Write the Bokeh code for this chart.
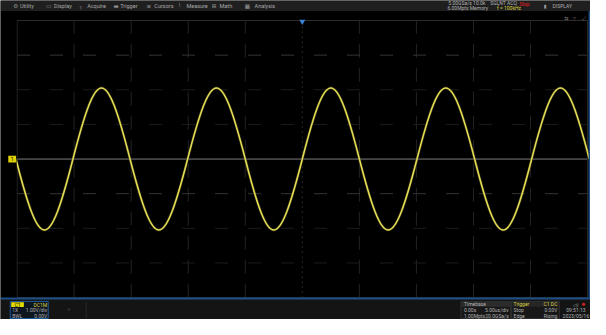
from bokeh.plotting import figure
from bokeh.models import Range1d, Label
from bokeh.embed import file_html
from bokeh.resources import INLINE

# ---------------- data ----------------
# zero crossings of the trace (microseconds, 5 us/div) and the peak of each half cycle (V, 1 V/div)
crossing_us = [-25.1, -20.1, -15.1, -10.05, -5.0, 0.0, 5.0, 10.05, 15.1, 20.1, 25.15]
half_peak_v = [-2.05, 2.05, -2.05, 2.05, -2.05, 2.05, -2.05, 2.05, -2.05, 2.05]
time_grid_us = [-25, -20, -15, -10, -5, 0, 5, 10, 15, 20, 25]
volt_grid = [-4, -3, -2, -1, 0, 1, 2, 3, 4]
menu_items = ["Utility", "Display", "Acquire", "Trigger", "Cursors", "Measure", "Math", "Analysis"]
menu_icons = ["\u2699", "\u25ad", "\u2510", "\u25ac", "\u2261", "\u2514", "\u229e", "\u25a6"]

W, H = 590, 319
p = figure(width=W, height=H, x_range=Range1d(0, 606), y_range=Range1d(335, 0),
           output_backend="svg", toolbar_location=None, min_border=0,
           x_axis_type=None, y_axis_type=None,
           background_fill_color="black", border_fill_color="black",
           outline_line_color=None)
p.grid.visible = False
# screen grid: left edge 17px=-25us, right 603px=+25us; top 21px=+4V, bottom 312px=-4V
pxus = (603 - 17) / 50.0
pxv = (312 - 21) / 8.0
p.extra_x_ranges = {"t": Range1d(-25 - 17 / pxus, 25 + (606 - 603) / pxus)}
p.extra_y_ranges = {"v": Range1d(-4 - (335 - 312) / pxv, 4 + 21 / pxv)}

# ---------------- graticule ----------------
for t in time_grid_us:
    if t in (-25, 25):
        continue
    if t == 0:
        p.segment(x0=[t], y0=[-4], x1=[t], y1=[4], x_range_name="t", y_range_name="v",
                  line_color="#4a4a4a", line_width=1, line_dash="1 4")
    else:
        p.segment(x0=[t], y0=[-4], x1=[t], y1=[4], x_range_name="t", y_range_name="v",
                  line_color="#232323", line_width=1, line_dash="14 10")
for v in volt_grid:
    if v in (-4, 4):
        continue
    if v == 0:
        p.segment(x0=[-25], y0=[v], x1=[25], y1=[v], x_range_name="t", y_range_name="v",
                  line_color="#7c7c7c", line_width=1)
    else:
        col = "#353535" if v in (3, -1) else "#1c1c1c"
        p.segment(x0=[-25], y0=[v], x1=[25], y1=[v], x_range_name="t", y_range_name="v",
                  line_color=col, line_width=1, line_dash="13 20")
p.quad(left=[-25], right=[25], bottom=[-4], top=[4], x_range_name="t", y_range_name="v",
       fill_alpha=0, line_color="#2c2c2c", line_width=1)

# ---------------- waveform (one cubic Bezier per half cycle) ----------------
k = 4.0 / 3.0
x0s, x1s, y0s, y1s, cx0s, cx1s, cy0s, cy1s = [], [], [], [], [], [], [], []
for i, pk in enumerate(half_peak_v):
    a, b = crossing_us[i], crossing_us[i + 1]
    h = b - a
    x0s.append(a); x1s.append(b); y0s.append(0.0); y1s.append(0.0)
    cx0s.append(a + h * k / 3.14159); cx1s.append(b - h * k / 3.14159)
    cy0s.append(pk * k); cy1s.append(pk * k)
p.bezier(x0=x0s, y0=y0s, x1=x1s, y1=y1s, cx0=cx0s, cy0=cy0s, cx1=cx1s, cy1=cy1s,
         x_range_name="t", y_range_name="v", line_color="#4a4620", line_width=3, line_alpha=0.5)
p.bezier(x0=x0s, y0=y0s, x1=x1s, y1=y1s, cx0=cx0s, cy0=cy0s, cx1=cx1s, cy1=cy1s,
         x_range_name="t", y_range_name="v", line_color="#e4dc52", line_width=1.6)

# ---------------- chrome ----------------
def box(l, r, t, b, fill, line=None, lw=1):
    p.quad(left=[l], right=[r], top=[t], bottom=[b], fill_color=fill,
           line_color=line if line else None, line_width=lw)

def lab(x, y, s, color="#b8b8b8", size="5px", align="left", font="Roboto"):
    p.add_layout(Label(x=x, y=y, text=s, text_color=color, text_font_size=size,
                       text_align=align, text_baseline="middle", text_font=font))

box(0, 16.5, 11, 312, "black")                   # left margin mask
box(0, 606, 0, 11, "#1f1f1f")                    # top menu bar
box(0, 606, 313, 335, "#141414")                 # bottom info bar
box(0, 606, 312, 314, "#1d4f86")                 # blue separator
box(604, 606, 11, 313, "#1d4f86")                # right blue edge

icon_x = [13, 47, 81, 116, 150, 182, 217, 251]
text_x = [20, 55, 89, 123, 158, 191, 225, 261]
for ix, tx, ic, it in zip(icon_x, text_x, menu_icons, menu_items):
    lab(ix, 5.5, ic, "#9a9a9a", "5.5px", font="DejaVu Sans")
    lab(tx, 5.5, it, "#a8a8a8", "5.5px")

lab(460, 3, "5.00GSa/s  10.0k", "#b0b0b0", "5px")
lab(459, 8, "6.00Mpts  Memory", "#b0b0b0", "5px")
lab(503, 3, "SGLNT ACQ", "#b0b0b0", "5px")
lab(510, 8, "f = 100kHz", "#d8d040", "5px")
lab(533, 3.5, "Stop", "#e02020", "5px")
lab(558, 5.5, "\u25ae", "#9a9a9a", "5px", font="DejaVu Sans")
lab(567, 5.5, "DISPLAY", "#b0b0b0", "5px")
lab(579, 18, "\u21c6", "#888888", "5px", font="DejaVu Sans")
lab(588, 18, "\u2317", "#888888", "5px", font="DejaVu Sans")
lab(597, 18, "\u2922", "#888888", "5px", font="DejaVu Sans")

# trigger position marker & channel marker
p.scatter(x=[0], y=[22], x_range_name="t", marker="inverted_triangle", size=6,
          fill_color="#3a82d8", line_color=None)
box(8, 16, 163, 170, "#e0d200")
lab(12, 166.5, "1", "#000000", "5px", align="center")

# channel box
box(10, 49, 316, 334, "#0e1620", "#1d5a9a", 1)
box(11, 24, 317, 322, "#e6dc00")
lab(17.5, 319.5, "C1", "#000000", "5px", align="center")
lab(48, 319.5, "DC1M", "#d8d040", "5px", align="right")
lab(12, 325.5, "1X", "#b0b0b0", "5px")
lab(48, 325.5, "1.00V/div", "#b0b0b0", "5px", align="right")
lab(12, 331, "BWL", "#b0b0b0", "5px")
lab(48, 331, "0.00V", "#b0b0b0", "5px", align="right")
box(87.5, 88.5, 316, 334, "#2a2a2a")
lab(70, 325, "+", "#3a3a3a", "8px", align="center")

# timebase box
box(473, 524, 316, 334, "#181818", "#303030", 1)
box(473.5, 523.5, 316.5, 321.5, "#2c2c2c")
lab(476, 319, "Timebase", "#b0b0b0", "5px")
lab(476, 325.5, "0.00s", "#b0b0b0", "5px")
lab(522, 325.5, "5.00us/div", "#b0b0b0", "5px", align="right")
lab(476, 331, "1.00Mpts", "#b0b0b0", "5px")
lab(522, 331, "20.0GSa/s", "#b0b0b0", "5px", align="right")

# trigger box
box(525, 574, 316, 334, "#181818", "#303030", 1)
box(525.5, 573.5, 316.5, 321.5, "#262626")
lab(527, 319, "Trigger", "#d8d040", "5px")
lab(572, 319, "C1 DC", "#d8d040", "5px", align="right")
lab(527, 325.5, "Stop", "#b0b0b0", "5px")
lab(572, 325.5, "0.00V", "#b0b0b0", "5px", align="right")
lab(527, 331, "Edge", "#b0b0b0", "5px")
lab(572, 331, "Rising", "#b0b0b0", "5px", align="right")

# clock box
lab(591, 319.5, "\u25c1\u2307", "#a0a0a0", "5px", align="center", font="DejaVu Sans")
p.scatter(x=[599], y=[319], marker="circle", size=3, fill_color="#e02020", line_color=None)
lab(591, 325.5, "09:51:13", "#b0b0b0", "5px", align="center")
lab(591, 331, "2023/05/16", "#b0b0b0", "5px", align="center")

open("out.html", "w").write(file_html(p, INLINE))
